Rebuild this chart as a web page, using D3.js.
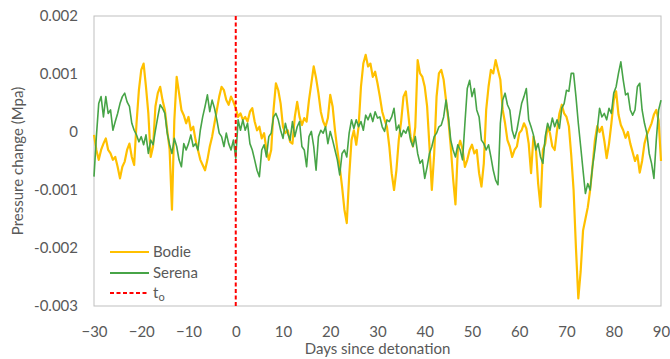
<!DOCTYPE html>
<html>
<head>
<meta charset="utf-8">
<script src="https://cdn.jsdelivr.net/npm/d3@7"></script>
<style>
    body { margin: 0; background: #fff; }
    text { font-family: Lato, "Open Sans", sans-serif; fill: #595959; }
</style>
</head>
<body>
<div id="viz"></div>
<script>
// Pressure values, in units of 1e-4 MPa, one every half day from day -30
const unit = 1e-4;
const dayStart = -30;
const dayStep = 0.5;

const bodie = [
    -0.5, -3.1, -4.8, -3.1, -2.0, -1.1, -3.1, -3.7, -4.8, -4.3,
    -6.0, -8.0, -6.0, -5.1, -3.1, -2.0, -4.3, -5.7, 1.5, 7.2,
    10.7, 11.8, 7.8, 3.2, -4.3, -2.5, 4.4, 6.7, 7.8, 5.5,
    3.8, 0.3, -3.0, -13.4, 2.0, 9.5, 6.7, 3.8, 2.9, 1.5,
    2.6, 0.3, 0.9, -1.4, -3.1, -4.8, -5.7, -6.6, -4.8, -2.5,
    -0.8, 1.5, 3.8, 6.1, 7.8, 7.2, 5.5, 4.7, 6.1, 5.2,
    4.1, 2.6, 3.2, 2.1, 2.6, 1.8, 3.5, 4.1, 1.8, 0.3,
    0.9, -1.1, -0.2, -3.1, -4.8, -3.1, 3.8, 8.4, 7.2, 4.9,
    0.9, -0.2, 0.3, -1.7, -2.0, 2.6, 5.2, 2.6, 1.2, 2.4,
    1.8, 5.5, 8.4, 11.3, 9.3, 6.7, 3.5, 1.8, 0.9, 2.4,
    6.4, 4.4, 0.3, -3.1, -6.0, -9.4, -13.4, -15.7, -7.7, -1.4,
    0.3, -2.2, 0.9, 7.8, 11.8, 13.3, 11.3, 11.8, 9.5, 10.4,
    8.4, 6.1, 3.5, 2.1, 0.9, -2.5, -7.1, -10.0, -6.6, -1.4,
    1.8, 6.1, 7.0, 3.2, -0.8, -2.5, 0.9, 12.4, 10.1, 9.5,
    7.8, 4.4, -2.5, -10.0, -3.7, 6.1, 10.1, 10.7, 9.0, 5.5,
    2.1, -2.5, -8.0, -12.5, -3.0, -1.5, -3.0, -6.0, -4.8, -3.1,
    -2.2, -3.7, -3.1, -7.1, -9.4, -5.4, 3.8, 7.8, 10.7, 10.1,
    12.4, 10.7, 9.0, 3.8, 1.5, -1.4, -2.5, -4.3, -3.1, -2.5,
    -0.2, 0.3, 1.5, 0.6, -2.0, -7.1, -0.8, -2.5, -8.9, -12.9,
    -3.1, -2.0, 0.9, -0.2, -2.5, -3.1, 0.3, 3.2, 4.7, 3.2,
    2.6, 1.0, -4.0, -10.0, -20.0, -28.7, -24.0, -17.0, -15.0, -13.0,
    -10.0, -6.0, -1.5, 1.0, 0.0, 0.9, -1.5, -4.5, -2.0, 1.5,
    5.5, 7.0, 3.0, 1.2, 0.3, -1.0, 0.0, -2.0, -3.5, -5.0,
    -4.0, -7.0, -5.0, -2.0, -0.5, 0.5, 1.5, 3.0, 3.8, 2.0,
    -5.0
];

const serena = [
    -7.7, -0.8, 4.9, 6.1, 2.6, 6.1, 3.2, 3.8, 0.3, 1.8,
    3.2, 4.9, 6.1, 6.7, 5.2, 4.4, 1.5, 0.3, -0.5, -1.7,
    -0.8, -2.2, -0.5, -3.7, -1.4, -2.2, 0.3, 2.6, 4.7, 4.1,
    3.2, -0.2, -2.2, -3.7, -1.1, -2.5, -4.8, -6.0, -2.0, -3.1,
    -2.0, -0.5, -2.5, -2.0, -3.1, 0.3, 2.6, 4.4, 6.4, 3.5,
    5.5, 4.1, 2.1, -0.2, -0.8, -2.5, -0.2, -2.0, -3.1, -1.4,
    -4.5, 2.1, 0.3, 2.1, 0.3, 1.5, -2.0, -3.1, -4.8, -6.6,
    -7.7, -3.1, -2.2, -4.3, -0.8, -0.2, 2.6, 3.2, 2.1, 0.3,
    -1.1, 1.5, -0.2, -1.4, 1.8, -0.8, 0.9, 1.8, -2.5, -3.1,
    -6.0, -0.8, 0.1, -2.5, -6.6, -0.8, 0.3, -0.2, 0.9, -2.0,
    0.1, -1.4, -3.1, -4.8, -7.4, -3.7, -3.1, -4.3, -0.2, 2.1,
    0.6, 2.1, 0.9, 1.8, 0.3, 2.9, 2.1, 3.2, 1.8, 3.5,
    2.4, 2.6, 0.9, 0.1, 2.1, 1.8, 2.6, 4.1, 0.3, 1.2,
    -0.8, 0.3, -0.2, 0.9, -1.4, -2.5, -0.8, -3.7, -5.4, -4.8,
    -8.0, -6.0, -3.7, -2.5, -0.8, -0.2, 0.9, 1.2, 2.6, 5.5,
    2.6, -1.4, -3.1, -4.3, -2.2, -3.1, -4.8, 1.5, 7.5, 8.9,
    6.1, 7.5, 3.8, 2.6, -1.4, -2.0, -3.1, -2.2, -4.3, -6.6,
    -8.3, -9.1, 1.5, 5.5, 6.7, 4.7, 3.8, 0.3, -1.1, 0.3,
    2.6, 4.9, 6.1, 7.5, 2.1, 0.9, -0.5, -3.1, -2.0, -4.3,
    -5.4, -0.8, 1.5, 0.3, 2.4, 0.9, 2.1, 0.6, 4.1, 4.9,
    7.2, 7.0, 10.1, 10.1, 6.1, 1.5, -2.5, -6.6, -10.6, -8.9,
    -10.0, -6.0, -3.1, 0.3, 4.1, 2.6, 3.2, 2.1, 4.1, 3.2,
    6.7, 7.8, 10.1, 12.1, 9.0, 6.4, 6.7, 3.8, 2.9, 3.8,
    7.8, 8.4, 3.8, 1.5, -0.2, -3.7, -5.4, -8.0, -1.4, 3.8,
    5.5
];

const xTicks = [-30, -20, -10, 0, 10, 20, 30, 40, 50, 60, 70, 80, 90];
const yTicks = [0.002, 0.001, 0, -0.001, -0.002, -0.003];
const yTickLabels = ["0.002", "0.001", "0", "-0.001", "-0.002", "-0.003"];
const detonationDay = 0;

const width = 670;
const height = 359;
const margin = { top: 16, right: 9, bottom: 53, left: 94 };
const fontSize = "15px";

const svg = d3.select("#viz").append("svg")
    .attr("width", width)
    .attr("height", height);

// Scales
const x = d3.scaleLinear()
    .domain([-30, 90])
    .range([margin.left, width - margin.right]);
const y = d3.scaleLinear()
    .domain([-0.003, 0.002])
    .range([height - margin.bottom, margin.top]);

const days = bodie.map((v, i) => dayStart + i * dayStep);

// Plot frame
svg.append("rect")
    .attr("x", x(-30))
    .attr("y", y(0.002))
    .attr("width", x(90) - x(-30))
    .attr("height", y(-0.003) - y(0.002))
    .attr("fill", "none")
    .attr("stroke", "#BFBFBF")
    .attr("stroke-width", 1);

// x axis, no tick marks
const xAxis = svg.append("g")
    .attr("transform", `translate(0, ${y(-0.003)})`)
    .call(d3.axisBottom(x).tickValues(xTicks).tickSize(0).tickPadding(20).tickFormat(d3.format("d")));
xAxis.select(".domain").remove();
xAxis.selectAll("text")
    .style("font-family", "Lato, sans-serif")
    .style("font-size", fontSize)
    .attr("fill", "#595959");

// y axis
const yAxis = svg.append("g")
    .attr("transform", `translate(${x(-30)}, 0)`)
    .call(d3.axisLeft(y).tickValues(yTicks).tickSize(0).tickPadding(16)
        .tickFormat((d, i) => yTickLabels[i]));
yAxis.select(".domain").remove();
yAxis.selectAll("text")
    .style("font-family", "Lato, sans-serif")
    .style("font-size", fontSize)
    .attr("fill", "#595959");

// Axis titles
svg.append("text")
    .attr("x", (x(-30) + x(90)) / 2)
    .attr("y", 354)
    .attr("text-anchor", "middle")
    .style("font-size", fontSize)
    .text("Days since detonation");

svg.append("text")
    .attr("transform", `translate(23, ${(y(0.002) + y(-0.003)) / 2}) rotate(-90)`)
    .attr("text-anchor", "middle")
    .style("font-size", fontSize)
    .text("Pressure change (Mpa)");

// Series lines
const line = (values) => d3.line()
    .x((d, i) => x(days[i]))
    .y(d => y(d * unit))(values);

svg.append("path")
    .attr("d", line(bodie))
    .attr("fill", "none")
    .attr("stroke", "#FFC000")
    .attr("stroke-width", 2.2)
    .attr("stroke-linejoin", "round");

svg.append("path")
    .attr("d", line(serena))
    .attr("fill", "none")
    .attr("stroke", "#47A447")
    .attr("stroke-width", 1.6)
    .attr("stroke-linejoin", "round");

// Detonation marker
svg.append("line")
    .attr("x1", x(detonationDay))
    .attr("x2", x(detonationDay))
    .attr("y1", y(0.002))
    .attr("y2", y(-0.003))
    .attr("stroke", "#FF0000")
    .attr("stroke-width", 2)
    .attr("stroke-dasharray", "4,2.5");

// Legend
const legend = [
    { name: "Bodie", color: "#FFC000", dash: null, y: 252 },
    { name: "Serena", color: "#47A447", dash: null, y: 273 },
    { name: "t", sub: "o", color: "#FF0000", dash: "4,2.5", y: 293 }
];

legend.forEach(item => {
    svg.append("line")
        .attr("x1", 110)
        .attr("x2", 149)
        .attr("y1", item.y)
        .attr("y2", item.y)
        .attr("stroke", item.color)
        .attr("stroke-width", 2)
        .attr("stroke-dasharray", item.dash);
    const t = svg.append("text")
        .attr("x", 153)
        .attr("y", item.y + 5)
        .style("font-size", fontSize)
        .text(item.name);
    if (item.sub) {
        t.append("tspan")
            .attr("dy", 3)
            .style("font-size", "11px")
            .text(item.sub);
    }
});
</script>
</body>
</html>
